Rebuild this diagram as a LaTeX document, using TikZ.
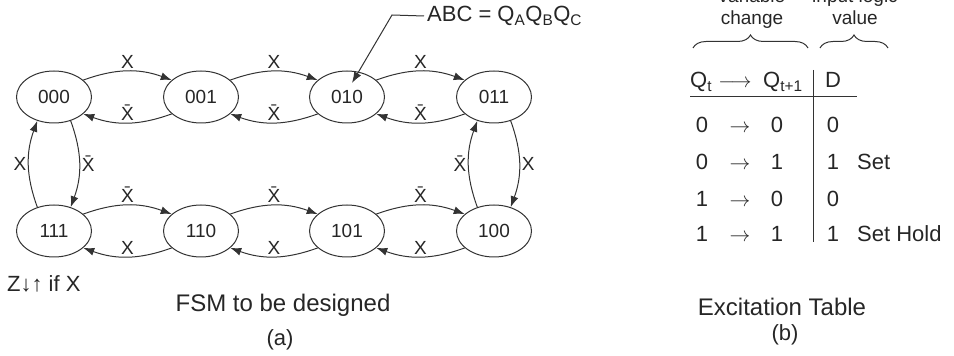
\documentclass[tikz,border=0pt]{standalone}
\usepackage{fontspec}
\setmainfont{Liberation Sans}
\usetikzlibrary{arrows.meta,positioning,shapes.geometric,decorations.pathreplacing}
\newcommand{\nx}{\={X}}
\newcommand{\fs}[1]{\fontsize{#1}{#1}\selectfont}

\begin{document}
\begin{tikzpicture}[x=1pt,y=1pt,>={Latex[length=11pt,width=8pt]},
  fsmstate/.style={draw=black!80,line width=1pt,ellipse,minimum width=75pt,minimum height=52pt,inner sep=0pt,font=\fs{19},text=black!85},
  trans/.style={->,draw=black!80,line width=1pt,bend left=20},
  elbl/.style={font=\fs{19},text=black!85,inner sep=2pt},
  txt/.style={font=\fs{22},text=black!85,inner sep=0pt},
  rule/.style={draw=black!80,line width=1pt}]
\path[use as bounding box,clip] (0,0) rectangle (954,356);

\node[fsmstate] (s000) at (54,259) {000};
\node[fsmstate] (s001) at (201,259) {001};
\node[fsmstate] (s010) at (347,259) {010};
\node[fsmstate] (s011) at (494,259) {011};
\node[fsmstate] (s111) at (54,125) {111};
\node[fsmstate] (s110) at (201,125) {110};
\node[fsmstate] (s101) at (347,125) {101};
\node[fsmstate] (s100) at (494,125) {100};

\draw[trans] (s000.30) to node[elbl,above] {X} (s001.150);
\draw[trans] (s001.210) to node[elbl,above] {\nx} (s000.330);
\draw[trans] (s001.30) to node[elbl,above] {X} (s010.150);
\draw[trans] (s010.210) to node[elbl,above] {\nx} (s001.330);
\draw[trans] (s010.30) to node[elbl,above] {X} (s011.150);
\draw[trans] (s011.210) to node[elbl,above] {\nx} (s010.330);
\draw[trans] (s111.30) to node[elbl,above] {\nx} (s110.150);
\draw[trans] (s110.210) to node[elbl,above] {X} (s111.330);
\draw[trans] (s110.30) to node[elbl,above] {\nx} (s101.150);
\draw[trans] (s101.210) to node[elbl,above] {X} (s110.330);
\draw[trans] (s101.30) to node[elbl,above] {\nx} (s100.150);
\draw[trans] (s100.210) to node[elbl,above] {X} (s101.330);
\draw[trans] (s111.125) to node[elbl,left] {X} (s000.235);
\draw[trans] (s000.305) to node[elbl,right] {\nx} (s111.55);
\draw[trans] (s100.125) to node[elbl,left] {\nx} (s011.235);
\draw[trans] (s011.305) to node[elbl,right] {X} (s100.55);

\node[txt,anchor=west,inner sep=3pt] (abc) at (424,340) {ABC = Q\textsubscript{A}Q\textsubscript{B}Q\textsubscript{C}};
\coordinate (abcbend) at (392,341);
\coordinate (abctip) at ([shift={(5,14)}]s010.center);
\draw[->,rule] (abc.west) -- (abcbend) -- (abctip);

\node[txt,anchor=west] (zlbl) at (7,72) {Z↓↑ if X};
\node[txt,font=\fs{24}] (fsmcap) at (283,51) {FSM to be designed};
\node[txt] (acap) at (280,16) {(a)};

\node[txt,font=\fs{19},anchor=base] (var1) at (752,353) {variable};
\node[txt,font=\fs{19},anchor=base] (var2) at (752,331) {change};
\node[txt,font=\fs{19},anchor=base] (inp1) at (855,353) {input logic};
\node[txt,font=\fs{19},anchor=base] (inp2) at (855,331) {value};
\draw[rule,decorate,decoration={brace,amplitude=13pt}] (693,308) -- (808,308);
\draw[rule,decorate,decoration={brace,amplitude=13pt}] (820,308) -- (888,308);

\node[txt,anchor=base west] (hq1) at (690,268) {Q\textsubscript{t}};
\node[txt,anchor=base] (harr) at (735,268) {$\longrightarrow$};
\node[txt,anchor=base west] (hq2) at (763,268) {Q\textsubscript{t+1}};
\node[txt,anchor=base] (hd) at (833,268) {D};
\draw[rule] (690,259) -- (857,259);
\draw[rule] (813,286) -- (813,114);
\foreach \yb/\qa/\qb/\dv [count=\i] in {223/0/0/0, 186/0/1/1, 149/1/0/0, 114/1/1/1} {
  \node[txt,anchor=base] (qa\i) at (702,\yb) {\qa};
  \node[txt,anchor=base] (ar\i) at (740,\yb) {$\rightarrow$};
  \node[txt,anchor=base] (qb\i) at (777,\yb) {\qb};
  \node[txt,anchor=base] (dv\i) at (833,\yb) {\dv};
}
\node[txt,anchor=base west] (nt2) at (857,186) {Set};
\node[txt,anchor=base west] (nt4) at (857,114) {Set Hold};

\node[txt,font=\fs{24}] (tabcap) at (782,49) {Excitation Table};
\node[txt] (bcap) at (785,21) {(b)};
\end{tikzpicture}
\end{document}
